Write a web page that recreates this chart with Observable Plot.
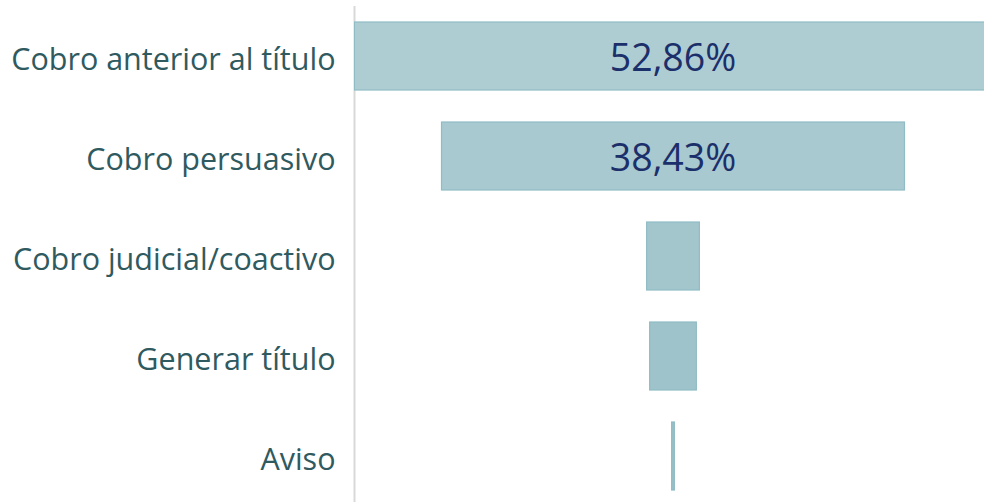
<!DOCTYPE html>
<html>
<head>
<meta charset="utf-8">
<script src="https://cdn.jsdelivr.net/npm/d3@7"></script>
<script src="https://cdn.jsdelivr.net/npm/@observablehq/plot@0.6"></script>
<style>
  html, body { margin: 0; padding: 0; background: #fff; }
  #chart svg { display: block; }
</style>
</head>
<body>
<div id="chart"></div>
<script>
const stages = ["Cobro anterior al título", "Cobro persuasivo", "Cobro judicial/coactivo", "Generar título", "Aviso"];
const shares = [52.86, 38.43, 4.45, 3.95, 0.31];
const valueLabels = ["52,86%", "38,43%", "", "", ""];

const data = stages.map((s, i) => ({stage: s, share: shares[i], label: valueLabels[i]}));
const xMin = -26.38;

const chart = Plot.plot({
  width: 984,
  height: 502,
  marginLeft: 354,
  marginRight: 0,
  marginTop: 6,
  marginBottom: 0,
  style: {fontFamily: "'Open Sans', 'Noto Sans', sans-serif", background: "#fff"},
  x: {domain: [xMin, 25.8], axis: null},
  y: {domain: stages, range: [6, 506], paddingInner: 0.32, paddingOuter: 0.16, label: null},
  color: {domain: stages, range: ["#aecdd3", "#a8c9cf", "#a3c6cc", "#9fc3ca", "#98bfc7"]},
  marks: [
    Plot.ruleX([xMin], {stroke: "#d9d9d9", strokeWidth: 2}),
    Plot.barX(data, {
      y: "stage",
      x1: d => -d.share / 2,
      x2: d => d.share / 2,
      fill: "stage",
      stroke: "#8fbcc5",
      strokeWidth: 1.2,
      insetLeft: 1,
      clip: true
    }),
    Plot.text(data, {
      y: "stage",
      x: 0,
      text: "label",
      fill: "#1b2f6b",
      fontSize: 37.5,
      dy: 2
    }),
    Plot.axisY({
      tickSize: 0,
      tickPadding: 19,
      fontSize: 30.5,
      dy: 4,
      color: "#2f5a60",
      label: null
    })
  ]
});
document.getElementById("chart").append(chart);
</script>
</body>
</html>
